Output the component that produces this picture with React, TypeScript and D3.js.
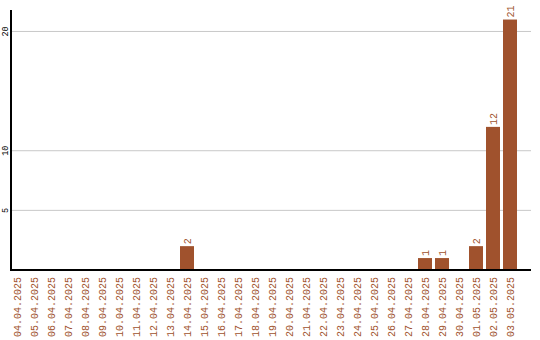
import React from "react";
import * as d3 from "d3";

const dates = [
  "04.04.2025", "05.04.2025", "06.04.2025", "07.04.2025", "08.04.2025",
  "09.04.2025", "10.04.2025", "11.04.2025", "12.04.2025", "13.04.2025",
  "14.04.2025", "15.04.2025", "16.04.2025", "17.04.2025", "18.04.2025",
  "19.04.2025", "20.04.2025", "21.04.2025", "22.04.2025", "23.04.2025",
  "24.04.2025", "25.04.2025", "26.04.2025", "27.04.2025", "28.04.2025",
  "29.04.2025", "30.04.2025", "01.05.2025", "02.05.2025", "03.05.2025",
];
const counts = [
  0, 0, 0, 0, 0, 0, 0, 0, 0, 0,
  2, 0, 0, 0, 0, 0, 0, 0, 0, 0,
  0, 0, 0, 0, 1, 1, 0, 2, 12, 21,
];
const yTicks = [5, 10, 20];

const W = 540;
const H = 340;
const BAR = "#a0522d";
const FONT = "'Liberation Mono', monospace";

export default function App() {
  const x = d3
    .scaleBand<string>()
    .domain(dates)
    .range([8.5, 518.5])
    .paddingInner(3 / 17)
    .paddingOuter(1.5 / 17);
  const y = d3.scaleLinear().domain([0, 21.8]).range([270, 10]);
  const left = 11;
  const right = 531;

  return (
    <svg
      width={W}
      height={H}
      style={{ position: "absolute", left: 0, top: 0, background: "#fff" }}
    >
      {yTicks.map((t) => (
        <g key={t}>
          <line x1={left} x2={right} y1={y(t)} y2={y(t)} stroke="#c8c8c8" strokeWidth={1} />
          <text
            transform={`translate(7.5,${y(t)}) rotate(-90)`}
            textAnchor="middle"
            fontFamily={FONT}
            fontSize={8.5}
            fill="#000"
          >
            {t}
          </text>
        </g>
      ))}
      {dates.map((d, i) => {
        const v = counts[i];
        const bx = x(d)!;
        const cx = bx + x.bandwidth() / 2;
        return (
          <g key={d}>
            {v > 0 && (
              <>
                <rect x={bx} y={y(v)} width={x.bandwidth()} height={y(0) - y(v)} fill={BAR} />
                <text
                  transform={`translate(${cx + 3.5},${y(v) - 2}) rotate(-90)`}
                  textAnchor="start"
                  fontFamily={FONT}
                  fontSize={10}
                  fill={BAR}
                >
                  {v}
                </text>
              </>
            )}
            <text
              transform={`translate(${cx + 3.5},277) rotate(-90)`}
              textAnchor="end"
              fontFamily={FONT}
              fontSize={10}
              fill={BAR}
            >
              {d}
            </text>
          </g>
        );
      })}
      <line x1={left} x2={left} y1={10} y2={270} stroke="#000" strokeWidth={2} />
      <line x1={left - 1} x2={right} y1={270} y2={270} stroke="#000" strokeWidth={2} />
    </svg>
  );
}
